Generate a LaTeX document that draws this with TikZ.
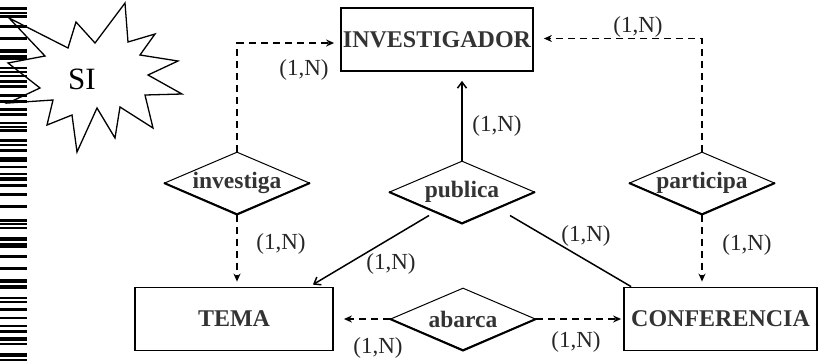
\documentclass[tikz,border=0pt]{standalone}
\usepackage{fontspec}
\setmainfont{Liberation Serif}
\usetikzlibrary{shapes.geometric,arrows.meta}
\definecolor{txt}{HTML}{333333}
\begin{document}
\begin{tikzpicture}[x=1pt,y=-1pt,
  ent/.style={draw,line width=1.8pt,inner sep=0,minimum width=#1,minimum height=63pt,
    font=\fontsize{24}{26}\selectfont\bfseries,text=txt},
  rel/.style={diamond,shape aspect=2.4,draw,line width=1pt,inner sep=0,minimum width=145pt,minimum height=62pt,
    font=\fontsize{23.5}{26}\selectfont\bfseries,text=txt},
  card/.style={inner sep=0,font=\fontsize{23}{26}\selectfont,text=black!85},
  dl/.style={dash pattern=on 7pt off 5pt,line width=1.5pt,-{Stealth[length=8pt,width=7pt]}},
  sa/.style={line width=1.5pt,-{Straight Barb[length=6pt,width=9pt]}},
  sl/.style={line width=1.5pt},
  thickedge/.style={line width=2pt,line join=miter},
  star/.style={line width=1.3pt,fill=white,line join=miter},
  barc/.style={fill=black,draw=none}]
\useasboundingbox (0,0) rectangle (821,362);

% starburst
\draw[star] (9,18) -- (68,48) -- (76,22) -- (95,43) -- (125,3) -- (128,42) -- (155,34)
  -- (140,55) -- (178,61) -- (148,75) -- (182,94) -- (145,95) -- (153,128) -- (120,107)
  -- (115,138) -- (97,108) -- (77,152) -- (72,115) -- (47,125) -- (53,100) -- (8,103)
  -- (40,88) -- (8,63) -- (45,56) -- cycle;
\node[inner sep=0,font=\fontsize{31}{34}\selectfont] (si) at (82,79) {SI};

% barcode
\foreach \a/\b in {7/10,12/14,15/18,25/28,37/40,49/53,55/60,67/69,71/73,75/77,80/83,85/88,
  94/97,100/103,108/111,113/116,122/124,126/128,129/132,139/142,144/146,149/152,157/162,
  166/168,173/175,177/181,184/187,193/196,205/208,219/222,223/225,227/229,237/241,243/248,
  255/258,267/270,279/283,285/289,297/299,301/303,308/311,317/319,325/327,330/333,337/341,
  343/345,353/357,359/361}
  \fill[barc] (0,\a) rectangle (27,\b);

% entities
\node[ent=192pt] (I) at (437,39.5) {INVESTIGADOR};
\node[ent=198pt] (T) at (234,319) {TEMA};
\node[ent=193pt] (C) at (720.5,319) {CONFERENCIA};

% relationships
\node[rel] (dInv) at (237,183) {investiga};
\node[rel] (dPub) at (462,192) {publica};
\node[rel] (dPar) at (702,183) {participa};
\node[rel] (dAba) at (463,319) {abarca};
\foreach \d in {dInv,dPub,dPar,dAba}
  \draw[thickedge] (\d.west) -- (\d.south) -- (\d.east);

% connectors
\draw[dl,shorten >=6pt] (dInv.north) |- ([yshift=-3.5pt]I.west);
\draw[dl,shorten >=10pt] (dPar.north) |- ([yshift=1pt]I.east);
\draw[dl,shorten >=5pt] (dInv.south) -- (T.north -| dInv.south);
\draw[dl,shorten >=5pt] (dPar.south) -- (C.north -| dPar.south);
\draw[dl,shorten >=10pt] (dAba.west) -- (T.east);
\draw[dl,shorten >=2pt] (dAba.east) -- (C.west);
\draw[sa,shorten >=9pt] (dPub.north) -- (I.south -| dPub.north);
\draw[sa] ([xshift=-33pt,yshift=8pt]dPub.south) -- ([xshift=-21pt,yshift=2pt]T.north east);
\draw[sl] ([xshift=48pt,yshift=8pt]dPub.south) -- ([xshift=8pt]C.north west);

% cardinalities
\node[card] (c1) at (304,70) {(1,N)};
\node[card] (c2) at (281,244) {(1,N)};
\node[card] (c3) at (497,126) {(1,N)};
\node[card] (c4) at (391,264) {(1,N)};
\node[card] (c5) at (586,236) {(1,N)};
\node[card] (c6) at (638,27) {(1,N)};
\node[card] (c7) at (747,245) {(1,N)};
\node[card] (c8) at (378,348) {(1,N)};
\node[card] (c9) at (576,342) {(1,N)};
\end{tikzpicture}
\end{document}
